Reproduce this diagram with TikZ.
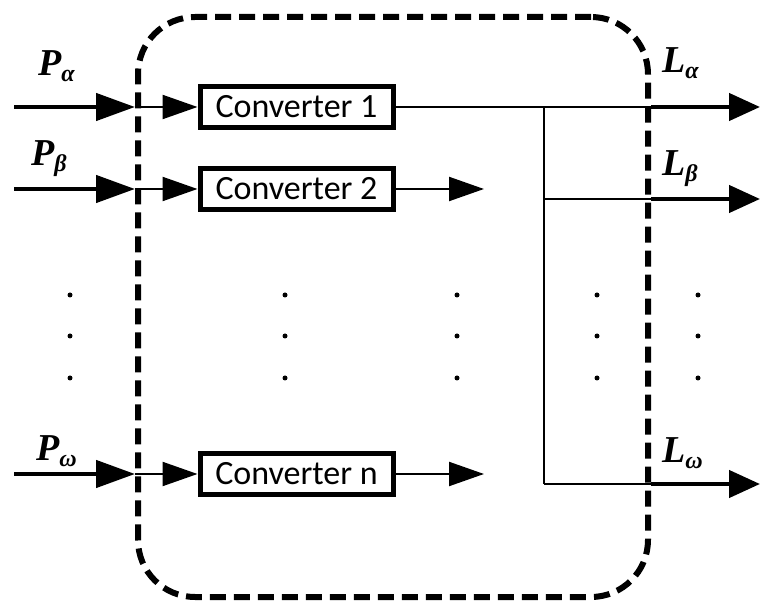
\documentclass[tikz,border=0pt]{standalone}
\usepackage{fontspec}
\setmainfont{Liberation Serif}
\newfontfamily\convfont{Carlito}
\usetikzlibrary{arrows.meta}
\newcommand{\labmain}{\fontsize{38}{44}\selectfont\bfseries\itshape}
\newcommand{\labsub}{\fontsize{24}{28}\selectfont\bfseries\itshape}
\newcommand{\lab}[2]{{\labmain #1\raisebox{-6pt}{\labsub #2}}}
\tikzset{
  sysbox/.style={draw, line width=6pt, dash pattern=on 16pt off 8pt, rounded corners=57pt, minimum width=510pt, minimum height=580pt, inner sep=0pt},
  convbox/.style={draw, line width=5pt, minimum width=193pt, minimum height=41pt, inner sep=0pt, font=\convfont\fontsize{34}{40}\selectfont},
  inarrow/.style={line width=4.5pt, -{Triangle[length=39pt,width=27pt]}},
  outarrow/.style={line width=4.5pt, -{Triangle[length=31pt,width=27pt]}},
  thinarrow/.style={line width=2.2pt, -{Triangle[length=35pt,width=24pt]}},
  thinline/.style={line width=2.2pt},
  lbl/.style={anchor=base west, inner sep=0pt},
  dotmark/.style={fill, circle, minimum size=5pt, inner sep=0pt}
}
\begin{document}
\begin{tikzpicture}[x=1pt,y=-1pt]
\useasboundingbox (0,0) rectangle (761,601);
% system boundary
\node[sysbox] (sys) at (393,307) {};
% converters
\node[convbox] (c1) at (296.5,107) {Converter 1};
\node[convbox] (c2) at (296.5,189) {Converter 2};
\node[convbox] (cn) at (296.5,474) {Converter n};
% inputs
\coordinate (pa) at (14,107);
\coordinate (pb) at (14,189);
\coordinate (pw) at (14,474);
\coordinate (ba) at (sys.west |- pa);
\coordinate (bb) at (sys.west |- pb);
\coordinate (bw) at (sys.west |- pw);
\draw[inarrow] (pa) -- (ba);
\draw[inarrow] (pb) -- (bb);
\draw[inarrow] (pw) -- (bw);
\draw[thinarrow] (ba) -- (c1.west);
\draw[thinarrow] (bb) -- (c2.west);
\draw[thinarrow] (bw) -- (cn.west);
% converter 2 and n outputs
\coordinate (o2) at (484,189);
\coordinate (on) at (484,474);
\draw[thinarrow] (c2.east) -- (o2);
\draw[thinarrow] (cn.east) -- (on);
% bus
\coordinate (j1) at (544,107);
\coordinate (j2) at (544,199);
\coordinate (jn) at (544,484);
\coordinate (ea) at (sys.east |- j1);
\coordinate (eb) at (sys.east |- j2);
\coordinate (ew) at (sys.east |- jn);
\coordinate (la) at (760,107);
\coordinate (lb) at (760,199);
\coordinate (lw) at (760,484);
\draw[thinline] (c1.east) -- (ea);
\draw[thinline] (j1) -- (jn);
\draw[thinline] (j2) -- (eb);
\draw[thinline] (jn) -- (ew);
\draw[outarrow] (ea) -- (la);
\draw[outarrow] (eb) -- (lb);
\draw[outarrow] (ew) -- (lw);
% labels
\node[lbl] (tpa) at (38,76) {\lab{P}{α}};
\node[lbl] (tpb) at (31,166) {\lab{P}{β}};
\node[lbl] (tpw) at (36,461) {\lab{P}{ω}};
\node[lbl] (tla) at (662,73) {\lab{L}{α}};
\node[lbl] (tlb) at (662,176) {\lab{L}{β}};
\node[lbl] (tlw) at (662,463) {\lab{L}{ω}};
% dots
\foreach \x [count=\i] in {70,285,457,597,698}{
  \foreach \y [count=\j] in {295,336,378}{
    \node[dotmark] (d\i\j) at (\x,\y) {};
  }
}
\end{tikzpicture}
\end{document}
